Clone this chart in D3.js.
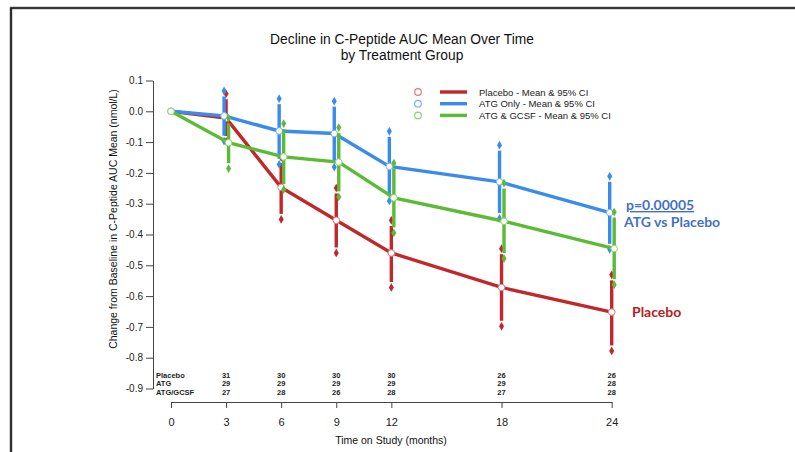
<!DOCTYPE html>
<html>
<head>
<meta charset="utf-8">
<script src="https://cdn.jsdelivr.net/npm/d3@7"></script>
<style>
  body { margin: 0; background: #fff; }
  svg { display: block; font-family: 'Liberation Sans', Arial, sans-serif; }
  .axis text { font-family: 'Liberation Sans', Arial, sans-serif; fill: #222; }
  .axis path, .axis line { stroke: #444; }
</style>
</head>
<body>
<div class="chart"></div>
<script>
const svgWidth = 795;
const svgHeight = 452;

// time points (months)
const months = [0, 3, 6, 9, 12, 18, 24];

// mean change from baseline and 95% CI, per group
const placeboMean = [0, -0.022, -0.247, -0.354, -0.460, -0.572, -0.652];
const placeboUpper = [0, 0.057, -0.150, -0.249, -0.354, -0.446, -0.531];
const placeboLower = [0, -0.098, -0.351, -0.460, -0.572, -0.698, -0.778];

const atgMean = [0, -0.015, -0.064, -0.072, -0.179, -0.229, -0.329];
const atgUpper = [0, 0.066, 0.041, 0.033, -0.065, -0.110, -0.211];
const atgLower = [0, -0.097, -0.172, -0.181, -0.291, -0.348, -0.448];

const gcsfMean = [0, -0.102, -0.148, -0.165, -0.281, -0.357, -0.446];
const gcsfUpper = [0, -0.022, -0.040, -0.053, -0.168, -0.233, -0.327];
const gcsfLower = [0, -0.186, -0.254, -0.278, -0.395, -0.478, -0.563];

// numbers at risk
const riskLabels = ['Placebo', 'ATG', 'ATG/GCSF'];
const riskMonths = [3, 6, 9, 12, 18, 24];
const riskPlacebo = [31, 30, 30, 30, 26, 26];
const riskAtg = [29, 29, 29, 29, 29, 28];
const riskGcsf = [27, 28, 26, 28, 27, 28];

const yTicks = [0.1, 0, -0.1, -0.2, -0.3, -0.4, -0.5, -0.6, -0.7, -0.8, -0.9];
const yTickLabels = ['0.1', '0.0', '-0.1', '-0.2', '-0.3', '-0.4', '-0.5', '-0.6', '-0.7', '-0.8', '-0.9'];

const groups = [
  { name: 'Placebo - Mean & 95% CI', mean: placeboMean, upper: placeboUpper, lower: placeboLower,
    color: '#c0282b', light: '#e0787a', dx: 0 },
  { name: 'ATG Only - Mean & 95% CI', mean: atgMean, upper: atgUpper, lower: atgLower,
    color: '#3a8bec', light: '#79b2f2', dx: -2 },
  { name: 'ATG & GCSF - Mean & 95% CI', mean: gcsfMean, upper: gcsfUpper, lower: gcsfLower,
    color: '#5bbb35', light: '#8ed46f', dx: 2.5 }
];

const svg = d3.select('.chart')
  .append('svg')
  .attr('width', svgWidth)
  .attr('height', svgHeight);

// outer frame
svg.append('path')
  .attr('d', `M11,${svgHeight} L11,8 L${svgWidth},8`)
  .attr('fill', 'none')
  .attr('stroke', '#aaa')
  .attr('stroke-width', 3);
svg.append('path')
  .attr('d', `M11,${svgHeight} L11,8 L${svgWidth},8`)
  .attr('fill', 'none')
  .attr('stroke', '#111')
  .attr('stroke-width', 1.6);

const x = d3.scaleLinear().domain([0, 24]).range([171, 611.7]);
const y = d3.scaleLinear().domain([0.1, -0.9]).range([80.5, 388.5]);

// title
svg.append('text')
  .attr('x', 402).attr('y', 44)
  .attr('text-anchor', 'middle')
  .attr('font-size', 13.8)
  .attr('fill', '#111')
  .text('Decline in C-Peptide AUC Mean Over Time');
svg.append('text')
  .attr('x', 402).attr('y', 60)
  .attr('text-anchor', 'middle')
  .attr('font-size', 13.8)
  .attr('fill', '#111')
  .text('by Treatment Group');

// y axis
const yAxis = d3.axisLeft(y)
  .tickValues(yTicks)
  .tickFormat((d, i) => yTickLabels[i])
  .tickSize(7)
  .tickSizeOuter(0)
  .tickPadding(3);
svg.append('g')
  .attr('class', 'axis')
  .attr('transform', 'translate(153,0)')
  .call(yAxis)
  .selectAll('text')
  .attr('font-size', 10);

svg.append('text')
  .attr('transform', 'translate(117,219) rotate(-90)')
  .attr('text-anchor', 'middle')
  .attr('font-size', 10.5)
  .attr('fill', '#111')
  .text('Change from Baseline in C-Peptide AUC Mean (nmol/L)');

// x axis
const xAxis = d3.axisBottom(x)
  .tickValues(months)
  .tickSize(6)
  .tickSizeOuter(0)
  .tickPadding(10);
svg.append('g')
  .attr('class', 'axis')
  .attr('transform', 'translate(0,402)')
  .call(xAxis)
  .selectAll('text')
  .attr('font-size', 11)
  .attr('font-family', 'DejaVu Sans, sans-serif');

svg.append('text')
  .attr('x', 391).attr('y', 444)
  .attr('text-anchor', 'middle')
  .attr('font-size', 10.5)
  .attr('fill', '#111')
  .text('Time on Study (months)');

// numbers at risk table
const riskRows = [riskPlacebo, riskAtg, riskGcsf];
const riskY = [377.5, 386, 394.5];
riskLabels.forEach((label, i) => {
  svg.append('text')
    .attr('x', 156).attr('y', riskY[i])
    .attr('font-size', 7.5)
    .attr('font-weight', 'bold')
    .attr('fill', '#222')
    .text(label);
  svg.selectAll(null)
    .data(riskRows[i])
    .enter()
    .append('text')
    .attr('x', (d, j) => x(riskMonths[j]))
    .attr('y', riskY[i])
    .attr('text-anchor', 'middle')
    .attr('font-size', 7.5)
    .attr('font-weight', 'bold')
    .attr('fill', '#222')
    .text(d => d);
});

// series
const line = d3.line()
  .x(d => d.x)
  .y(d => d.y);

groups.forEach(g => {
  const pts = months.map((m, i) => ({
    x: x(m) + (i === 0 ? 0 : g.dx),
    y: y(g.mean[i]),
    up: y(g.upper[i]),
    lo: y(g.lower[i])
  }));
  const grp = svg.append('g');

  // CI bars (small gap before the end diamonds)
  grp.selectAll('line.ci')
    .data(pts.slice(1))
    .enter()
    .append('line')
    .attr('x1', d => d.x).attr('x2', d => d.x)
    .attr('y1', d => d.up + 5.5).attr('y2', d => d.lo - 5.5)
    .attr('stroke', g.color)
    .attr('stroke-width', 3.4);

  // CI end diamonds
  const ends = pts.slice(1).flatMap(d => [{ x: d.x, y: d.up }, { x: d.x, y: d.lo }]);
  grp.selectAll('path.dia')
    .data(ends)
    .enter()
    .append('path')
    .attr('d', d3.symbol(d3.symbolDiamond, 22))
    .attr('transform', d => `translate(${d.x},${d.y})`)
    .attr('fill', g.color);

  // mean line
  grp.append('path')
    .datum(pts)
    .attr('d', line)
    .attr('fill', 'none')
    .attr('stroke', g.color)
    .attr('stroke-width', 3.4);

  // mean circles
  grp.selectAll('circle')
    .data(pts)
    .enter()
    .append('circle')
    .attr('cx', d => d.x)
    .attr('cy', d => d.y)
    .attr('r', 3.3)
    .attr('fill', '#fff')
    .attr('stroke', g.light)
    .attr('stroke-width', 1);
});

// legend
const legend = svg.append('g');
groups.forEach((g, i) => {
  const ly = 92 + i * 11.7;
  legend.append('circle')
    .attr('cx', 418).attr('cy', ly).attr('r', 3.3)
    .attr('fill', '#fff').attr('stroke', g.light).attr('stroke-width', 1.2);
  legend.append('line')
    .attr('x1', 440).attr('x2', 467)
    .attr('y1', ly).attr('y2', ly)
    .attr('stroke', g.color).attr('stroke-width', 3.4);
  legend.append('text')
    .attr('x', 479).attr('y', ly + 3.5)
    .attr('font-size', 9.5)
    .attr('fill', '#222')
    .text(g.name);
});

// annotations
svg.append('text')
  .attr('x', 626).attr('y', 210)
  .attr('font-family', 'Lato, sans-serif')
  .attr('font-weight', 'bold')
  .attr('font-size', 14)
  .attr('fill', '#4472c4')
  .attr('text-decoration', 'underline')
  .text('p=0.00005');
svg.append('text')
  .attr('x', 624).attr('y', 227)
  .attr('font-family', 'Lato, sans-serif')
  .attr('font-weight', 'bold')
  .attr('font-size', 14)
  .attr('fill', '#4472c4')
  .text('ATG vs Placebo');
svg.append('text')
  .attr('x', 632).attr('y', 317)
  .attr('font-family', 'Lato, sans-serif')
  .attr('font-weight', 'bold')
  .attr('font-size', 14)
  .attr('fill', '#b82020')
  .text('Placebo');
</script>
</body>
</html>
